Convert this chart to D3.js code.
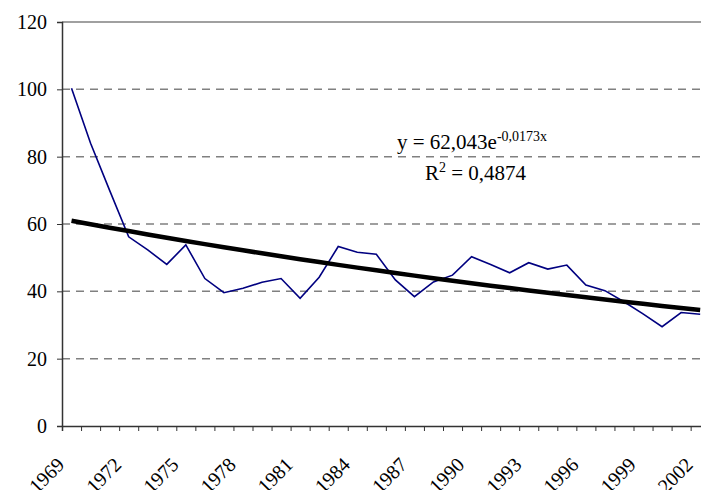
<!DOCTYPE html>
<html>
<head>
<meta charset="utf-8">
<script src="https://cdn.jsdelivr.net/npm/d3@7"></script>
<style>
  body { margin: 0; background: #fff; overflow: hidden; }
  svg text { font-family: "Liberation Serif", "Times New Roman", Times, "DejaVu Serif", serif; }
</style>
</head>
<body>
<svg id="chart" width="701" height="490"></svg>
<script>
// data
var years = d3.range(1969, 2003);
var values = [100.3, 84.0, 70.0, 56.2, 52.3, 48.0, 53.8, 43.8, 39.6, 40.9,
              42.7, 43.8, 37.9, 44.2, 53.3, 51.6, 51.0, 43.4, 38.4, 42.8,
              44.8, 50.3, 48.0, 45.5, 48.5, 46.6, 47.8, 41.9, 40.2, 36.9,
              33.3, 29.5, 33.7, 33.2];
var yTicks = [0, 20, 40, 60, 80, 100, 120];
// exponential trend shown on the chart: y = a * e^(b*x), x = 1..n
var trendA = 62.043, trendB = -0.0173;

var margin = {top: 22, left: 62},
    height = 404,
    width = 647.7;

var svg = d3.select("#chart");
var g = svg.append("g").attr("transform", "translate(" + margin.left + "," + margin.top + ")");

var x = d3.scaleBand().domain(years).range([0, width]);
var xi = d3.scaleLinear().domain([0, years.length]).range([0, width]);
var y = d3.scaleLinear().domain([0, 120]).range([height, 0]);

// gridlines
g.selectAll(".grid")
    .data(yTicks.filter(function(d) { return d > 0 && d < 120; }))
    .enter().append("line")
    .attr("x1", 0).attr("x2", width)
    .attr("y1", function(d) { return y(d); })
    .attr("y2", function(d) { return y(d); })
    .attr("stroke", "#808080")
    .attr("stroke-width", 1.5)
    .attr("stroke-dasharray", "8,6");

// top border
g.append("line")
    .attr("x1", 0).attr("x2", width)
    .attr("y1", y(120)).attr("y2", y(120))
    .attr("stroke", "#808080").attr("stroke-width", 1.5);

// y axis
var yAxis = d3.axisLeft(y).tickValues(yTicks).tickSize(5).tickPadding(10);
var ya = g.append("g").call(yAxis).attr("font-family", null);
ya.select(".domain").attr("stroke", "#333").attr("stroke-width", 1.5);
ya.selectAll(".tick line").attr("stroke", "#333");
ya.selectAll("text").attr("font-size", 20).attr("fill", "#000");

// x axis: ticks between categories
var xAxis = d3.axisBottom(xi).tickValues(d3.range(years.length + 1)).tickSize(5).tickFormat("");
var xa = g.append("g").attr("transform", "translate(0," + height + ")").call(xAxis);
xa.select(".domain").attr("stroke", "#333").attr("stroke-width", 1.5);
xa.selectAll(".tick line").attr("stroke", "#333");

// x labels every third year
g.selectAll(".xlab")
    .data(years.filter(function(d, i) { return i % 3 === 0; }))
    .enter().append("text")
    .attr("transform", function(d) {
      return "translate(" + (x(d) + x.bandwidth() / 2 - 6) + "," + (height + 40) + ") rotate(-45)";
    })
    .attr("text-anchor", "end")
    .attr("font-size", 20)
    .text(function(d) { return d; });

// data line
var line = d3.line()
    .x(function(d, i) { return x(years[i]) + x.bandwidth() / 2; })
    .y(function(d) { return y(d); });

g.append("path")
    .datum(values)
    .attr("fill", "none")
    .attr("stroke", "#000080")
    .attr("stroke-width", 1.6)
    .attr("d", line);

// trend line
var trend = years.map(function(yr, i) { return trendA * Math.exp(trendB * (i + 1)); });
g.append("path")
    .datum(trend)
    .attr("fill", "none")
    .attr("stroke", "#000")
    .attr("stroke-width", 4.5)
    .attr("d", line);

// equation
var eq = svg.append("text").attr("x", 397).attr("y", 149).attr("font-size", 21);
eq.append("tspan").text("y = 62,043e");
eq.append("tspan").attr("dy", -8).attr("font-size", 14).text("-0,0173x");

var r2 = svg.append("text").attr("x", 425).attr("y", 180).attr("font-size", 21);
r2.append("tspan").text("R");
r2.append("tspan").attr("dy", -8).attr("font-size", 14).text("2");
r2.append("tspan").attr("dy", 8).text(" = 0,4874");
</script>
</body>
</html>
